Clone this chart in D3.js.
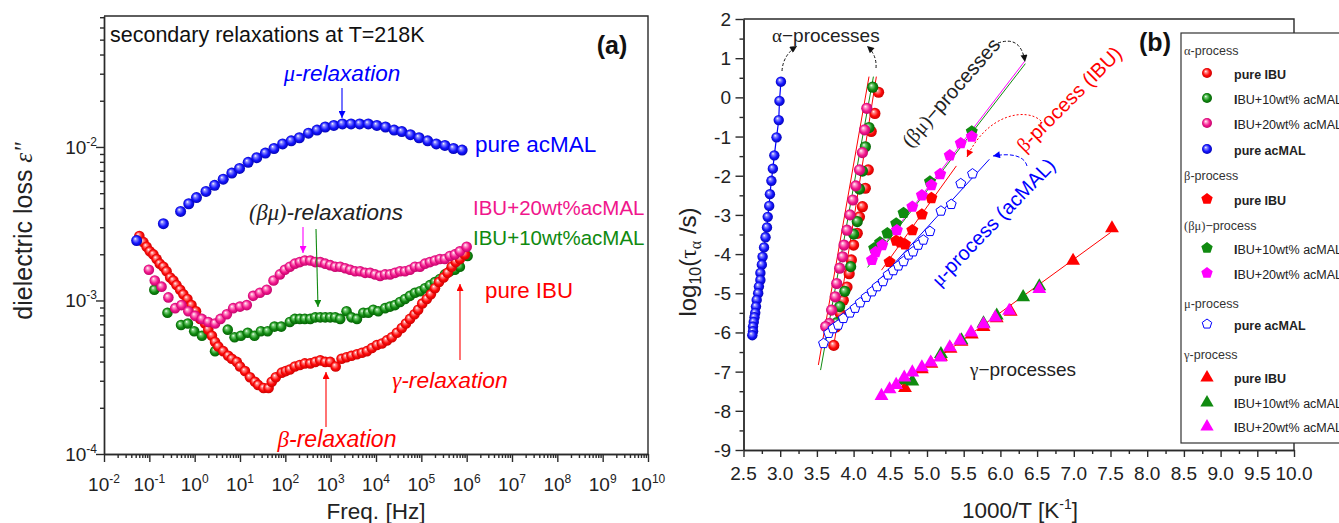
<!DOCTYPE html>
<html><head><meta charset="utf-8">
<script src="https://cdn.jsdelivr.net/npm/d3@7"></script>
<style>body{margin:0;background:#fff} svg{display:block} text{font-family:"Liberation Sans",Arial,sans-serif}</style>
</head><body><svg id="c" width="1339" height="523"></svg>
<script>
// ---------------- Panel (a) data : log10(freq/Hz), log10(eps'') ----------------
const acmalLogF = [-1.28,-0.69,-0.31,-0.13,0.04,0.25,0.44,0.63,0.82,0.99,1.18,1.37,1.56,1.75,1.94,2.13,2.31,2.51,2.70,2.88,3.07,3.26,3.45,3.64,3.83,4.02,4.21,4.40,4.57,4.76,4.95,5.14,5.33,5.52,5.71,5.90];
const acmalLogE = [-2.61,-2.50,-2.42,-2.37,-2.33,-2.29,-2.25,-2.21,-2.17,-2.14,-2.10,-2.07,-2.04,-2.01,-1.98,-1.96,-1.94,-1.91,-1.89,-1.87,-1.86,-1.85,-1.85,-1.85,-1.85,-1.86,-1.87,-1.89,-1.90,-1.92,-1.94,-1.96,-1.98,-1.99,-2.01,-2.02];
const ibuLogF = [-1.22,-1.13,-1.06,-0.99,-0.91,-0.84,-0.77,-0.69,-0.62,-0.54,-0.47,-0.40,-0.32,-0.25,-0.16,-0.07,0.03,0.12,0.23,0.30,0.38,0.45,0.52,0.63,0.74,0.82,0.93,1.00,1.11,1.22,1.33,1.40,1.52,1.63,1.70,1.79,1.92,2.01,2.10,2.21,2.32,2.43,2.55,2.66,2.77,2.88,2.99,3.11,3.24,3.35,3.46,3.58,3.69,3.80,3.91,4.02,4.13,4.24,4.35,4.46,4.57,4.66,4.75,4.85,4.93,5.02,5.12,5.21,5.30,5.39,5.49,5.58,5.67,5.76,5.85,5.96];
const ibuLogE = [-2.58,-2.62,-2.65,-2.68,-2.70,-2.73,-2.76,-2.78,-2.81,-2.85,-2.87,-2.90,-2.93,-2.96,-2.99,-3.03,-3.07,-3.12,-3.15,-3.19,-3.23,-3.27,-3.30,-3.33,-3.36,-3.38,-3.40,-3.43,-3.46,-3.50,-3.53,-3.55,-3.57,-3.57,-3.53,-3.50,-3.47,-3.46,-3.45,-3.43,-3.42,-3.41,-3.41,-3.40,-3.39,-3.40,-3.40,-3.43,-3.38,-3.37,-3.36,-3.35,-3.34,-3.33,-3.31,-3.29,-3.28,-3.26,-3.24,-3.21,-3.18,-3.15,-3.12,-3.09,-3.06,-3.02,-2.99,-2.96,-2.92,-2.88,-2.85,-2.82,-2.78,-2.75,-2.73,-2.70];
const ibu20LogF = [-1.01,-0.88,-0.73,-0.58,-0.43,-0.29,-0.14,0.01,0.16,0.30,0.45,0.57,0.71,0.85,1.00,1.15,1.29,1.44,1.59,1.74,1.88,1.99,2.10,2.21,2.32,2.43,2.55,2.66,2.77,2.88,2.99,3.10,3.21,3.32,3.43,3.54,3.65,3.76,3.87,3.98,4.09,4.20,4.31,4.42,4.53,4.64,4.75,4.86,4.97,5.08,5.19,5.30,5.41,5.52,5.63,5.74,5.85,6.00];
const ibu20LogE = [-2.80,-2.87,-2.91,-2.98,-3.05,-3.03,-3.07,-3.10,-3.12,-3.14,-3.15,-3.12,-3.09,-3.05,-3.04,-3.03,-2.97,-2.95,-2.93,-2.87,-2.83,-2.80,-2.78,-2.76,-2.75,-2.74,-2.74,-2.75,-2.75,-2.76,-2.77,-2.78,-2.78,-2.79,-2.80,-2.81,-2.81,-2.82,-2.82,-2.83,-2.84,-2.83,-2.83,-2.82,-2.81,-2.81,-2.80,-2.78,-2.78,-2.76,-2.75,-2.74,-2.73,-2.73,-2.71,-2.70,-2.68,-2.65];
const ibu10LogF = [-0.89,-0.60,-0.30,-0.15,-0.01,0.16,0.45,0.73,0.88,1.02,1.17,1.32,1.46,1.61,1.76,1.91,2.10,2.21,2.32,2.43,2.55,2.66,2.77,2.88,2.99,3.10,3.21,3.35,3.46,3.58,3.72,3.83,3.94,4.05,4.20,4.31,4.42,4.53,4.64,4.75,4.86,4.97,5.08,5.19,5.30,5.41,5.52,5.63,5.74,5.85,6.02];
const ibu10LogE = [-2.93,-3.08,-3.16,-3.15,-3.20,-3.23,-3.33,-3.19,-3.24,-3.23,-3.21,-3.23,-3.20,-3.20,-3.17,-3.17,-3.14,-3.12,-3.12,-3.12,-3.12,-3.11,-3.11,-3.11,-3.11,-3.11,-3.12,-3.07,-3.11,-3.12,-3.08,-3.08,-3.06,-3.07,-3.05,-3.04,-3.03,-3.01,-2.99,-2.97,-2.95,-2.94,-2.92,-2.90,-2.88,-2.86,-2.83,-2.81,-2.80,-2.78,-2.71];
const freqDecadeTicks = [-2,-1,0,1,2,3,4,5,6,7,8,9,10];
const lossDecadeTicks = [-4,-3,-2];

// ---------------- Panel (b) data : 1000/T [1/K], log10(tau/s) ----------------
const alphaAcmalT = [3.01,2.99,2.98,2.95,2.92,2.90,2.88,2.86,2.85,2.83,2.82,2.80,2.78,2.76,2.75,2.73,2.73,2.71,2.70,2.68,2.67,2.66,2.65,2.64,2.63,2.63,2.62];
const alphaAcmalTau = [0.40,-0.09,-0.58,-1.02,-1.48,-1.82,-2.13,-2.47,-2.77,-3.05,-3.32,-3.57,-3.83,-4.07,-4.27,-4.48,-4.66,-4.83,-5.00,-5.17,-5.34,-5.50,-5.61,-5.73,-5.85,-5.97,-6.07];
const alphaIbuT = [4.34,4.29,4.24,4.20,4.16,4.12,4.08,4.05,4.00,3.97,3.94,3.91,3.86,3.82,3.76,3.73];
const alphaIbuTau = [0.13,-0.41,-0.87,-1.85,-2.32,-2.79,-3.05,-3.47,-3.77,-4.15,-4.50,-4.84,-5.18,-5.52,-5.86,-6.33];
const alphaIbu10T = [4.26,4.21,4.16,4.12,4.08,4.05,4.00,3.96,3.88,3.81,3.77];
const alphaIbu10Tau = [0.26,-0.77,-1.26,-1.88,-2.34,-3.17,-3.49,-4.32,-4.95,-5.34,-5.75];
const alphaIbu20T = [4.18,4.15,4.12,4.08,4.03,3.99,3.95,3.91,3.87,3.85,3.81,3.77,3.75,3.70,3.67,3.62];
const alphaIbu20Tau = [-0.28,-0.83,-1.41,-1.85,-2.26,-2.62,-3.00,-3.39,-3.77,-4.07,-4.36,-4.75,-5.09,-5.43,-5.77,-5.85];
const alphaFitRedAT = [3.52,4.21], alphaFitRedATau = [-6.83,0.53];
const alphaFitRedBT = [3.72,4.31], alphaFitRedBTau = [-6.45,0.53];
const alphaFitGreenT = [3.55,4.27], alphaFitGreenTau = [-6.96,0.53];
const betaIbuT = [4.49,4.58,4.64,4.70,4.80,4.93,5.06];
const betaIbuTau = [-4.20,-3.66,-3.70,-3.75,-3.39,-2.99,-2.57];
const betaFitT = [4.38,5.40], betaFitTau = [-4.41,-1.75];
const bm10T = [4.28,4.36,4.46,4.58,4.68,5.04,5.61];
const bm10Tau = [-3.85,-3.70,-3.47,-3.22,-2.95,-2.15,-0.87];
const bm20T = [4.25,4.30,4.39,4.59,4.80,4.93,5.06,5.18,5.31,5.46,5.61];
const bm20Tau = [-4.15,-3.95,-3.77,-3.39,-2.79,-2.50,-2.24,-1.96,-1.48,-1.17,-1.00];
const bm10FitT = [4.19,6.34], bm10FitTau = [-4.34,0.86];
const bm20FitT = [4.20,6.33], bm20FitTau = [-4.28,0.92];
const muT = [3.59,3.66,3.72,3.79,3.86,3.95,4.02,4.09,4.17,4.25,4.32,4.40,4.47,4.54,4.61,4.68,4.75,4.81,4.88,4.95,5.04,5.19,5.33,5.46,5.62];
const muTau = [-6.28,-6.02,-5.90,-5.81,-5.64,-5.50,-5.38,-5.24,-5.10,-4.96,-4.83,-4.70,-4.53,-4.42,-4.30,-4.19,-4.02,-3.94,-3.77,-3.64,-3.42,-2.90,-2.73,-2.20,-1.95];
const muFitT = [3.54,5.85], muFitTau = [-6.32,-1.58];
const gIbuT = [4.70,4.93,5.06,5.19,5.32,5.47,5.61,5.77,5.95,6.14,6.99,7.52];
const gIbuTau = [-7.40,-6.92,-6.78,-6.60,-6.40,-6.22,-6.03,-5.84,-5.62,-5.45,-4.15,-3.32];
const gIbu10T = [4.69,4.80,5.19,5.47,5.77,5.95,6.31,6.53];
const gIbu10Tau = [-7.20,-7.23,-6.53,-6.18,-5.75,-5.55,-5.08,-4.80];
const gIbu20T = [4.38,4.49,4.58,4.69,4.80,4.93,5.05,5.18,5.31,5.45,5.60,5.77,5.93,6.12,6.53];
const gIbu20Tau = [-7.60,-7.43,-7.32,-7.13,-7.00,-6.87,-6.75,-6.62,-6.36,-6.19,-5.98,-5.77,-5.60,-5.43,-4.87];
const gFitT = [7.50,4.60], gFitTau = [-3.45,-7.40];
const invTTicks = [2.5,3.0,3.5,4.0,4.5,5.0,5.5,6.0,6.5,7.0,7.5,8.0,8.5,9.0,9.5,10.0];
const tauTicks = [-9,-8,-7,-6,-5,-4,-3,-2,-1,0,1,2];

// ---------------- setup ----------------
const svg = d3.select('#c');
const defs = svg.append('defs');
const AX = '#2a2a2a';
function grad(id, light, base, dark){
  const g = defs.append('radialGradient').attr('id',id).attr('cx','0.5').attr('cy','0.5').attr('r','0.55').attr('fx','0.36').attr('fy','0.32');
  g.append('stop').attr('offset','0').attr('stop-color','#ffffff');
  g.append('stop').attr('offset','0.22').attr('stop-color',light);
  g.append('stop').attr('offset','0.6').attr('stop-color',base);
  g.append('stop').attr('offset','1').attr('stop-color',dark);
}
grad('gRed','#ff8a8a','#ff0a0a','#c00000');
grad('gGreen','#7bd07b','#138c13','#005800');
grad('gPink','#ff9ccc','#f2188e','#b80062');
grad('gBlue','#8a8aff','#1515ff','#0000a5');
function arrowMarker(id, color){
  defs.append('marker').attr('id',id).attr('viewBox','0 0 10 10').attr('refX',10).attr('refY',5)
    .attr('markerWidth',9).attr('markerHeight',7).attr('markerUnits','userSpaceOnUse').attr('orient','auto')
    .append('path').attr('d','M0,0 L10,5 L0,10 Z').attr('fill',color);
}
arrowMarker('aBlue','#0000ff'); arrowMarker('aRed','#ff0000'); arrowMarker('aGreen','#108a10');
arrowMarker('aMag','#ff00ff'); arrowMarker('aBlack','#111');

function pentPath(r){
  const p = d3.range(5).map(k => { const a = -Math.PI/2 + k*2*Math.PI/5; return [r*Math.cos(a), r*Math.sin(a)]; });
  return 'M' + p.map(q => q[0].toFixed(2)+','+q[1].toFixed(2)).join('L') + 'Z';
}
function triPath(s){ return `M0,${-s} L${s*0.95},${s*0.65} L${-s*0.95},${s*0.65} Z`; }

function balls(g, xs, ys, xS, yS, gid, r, conv){
  g.append('g').selectAll('circle').data(d3.zip(xs, ys)).join('circle')
    .attr('cx', d => xS(conv ? Math.pow(10,d[0]) : d[0]))
    .attr('cy', d => yS(conv ? Math.pow(10,d[1]) : d[1]))
    .attr('r', r).attr('fill', `url(#${gid})`);
}
function shapes(g, xs, ys, xS, yS, path, fill, stroke){
  g.append('g').selectAll('path').data(d3.zip(xs, ys)).join('path')
    .attr('transform', d => `translate(${xS(d[0])},${yS(d[1])})`)
    .attr('d', path).attr('fill', fill).attr('stroke', stroke || 'none').attr('stroke-width', stroke ? 1 : 0);
}
function fitLine(g, xs, ys, xS, yS, color, w){
  g.append('path').datum(d3.zip(xs, ys)).attr('d', d3.line().x(d=>xS(d[0])).y(d=>yS(d[1])))
    .attr('fill','none').attr('stroke',color).attr('stroke-width', w || 1);
}
function styleAxis(sel){ sel.selectAll('path,line').attr('stroke',AX).attr('stroke-width',1.4); sel.selectAll('text').remove(); }

// ================= Panel (a) =================
const xA = d3.scaleLog().domain([1e-2, 1e10]).range([104, 648]);
const yA = d3.scaleLog().domain([1e-4, Math.pow(10,-1.147)]).range([454, 16]);
const gA = svg.append('g');
const minorXA = [];
freqDecadeTicks.slice(0,-1).forEach(e => { for (let m=2;m<=9;m++) minorXA.push(m*Math.pow(10,e)); });
const minorYA = [];
[-4,-3,-2].forEach(e => { for (let m=2;m<=9;m++){ const v=m*Math.pow(10,e); if (v < yA.domain()[1]) minorYA.push(v);} });
gA.append('g').attr('transform','translate(0,454)').call(d3.axisBottom(xA).tickValues(minorXA).tickSize(4).tickSizeOuter(0)).call(styleAxis);
gA.append('g').attr('transform','translate(0,454)').call(d3.axisBottom(xA).tickValues(freqDecadeTicks.map(e=>Math.pow(10,e))).tickSize(8).tickSizeOuter(0)).call(styleAxis);
gA.append('g').attr('transform','translate(104,0)').call(d3.axisLeft(yA).tickValues(minorYA).tickSize(4).tickSizeOuter(0)).call(styleAxis);
gA.append('g').attr('transform','translate(104,0)').call(d3.axisLeft(yA).tickValues(lossDecadeTicks.map(e=>Math.pow(10,e))).tickSize(8).tickSizeOuter(0)).call(styleAxis);
gA.append('path').attr('d','M104,16 H648 V454').attr('fill','none').attr('stroke',AX).attr('stroke-width',1.4);
freqDecadeTicks.forEach(e => {
  const t = gA.append('text').attr('x', xA(Math.pow(10,e))).attr('y', 491).attr('text-anchor','middle').attr('font-size',19).attr('fill','#222');
  t.append('tspan').text('10'); t.append('tspan').attr('dy',-8).attr('font-size',12).text(String(e));
});
lossDecadeTicks.forEach(e => {
  const t = gA.append('text').attr('x', 97).attr('y', yA(Math.pow(10,e))+7).attr('text-anchor','end').attr('font-size',19).attr('fill','#222');
  t.append('tspan').text('10'); t.append('tspan').attr('dy',-8).attr('font-size',12).text(String(e));
});
gA.append('text').attr('transform','translate(32,231) rotate(-90)').attr('text-anchor','middle').attr('font-size',25).attr('fill','#222')
  .call(t=>{ t.append('tspan').text('dielectric loss '); t.append('tspan').attr('font-family','Liberation Serif').attr('font-style','italic').text('ε"'); });
gA.append('text').attr('x',376).attr('y',519).attr('text-anchor','middle').attr('font-size',22.5).attr('fill','#222').text('Freq. [Hz]');

balls(gA, ibu10LogF, ibu10LogE, xA, yA, 'gGreen', 5.3, true);
balls(gA, ibuLogF, ibuLogE, xA, yA, 'gRed', 5.3, true);
balls(gA, ibu20LogF, ibu20LogE, xA, yA, 'gPink', 5.3, true);
balls(gA, acmalLogF, acmalLogE, xA, yA, 'gBlue', 5.5, true);

function aText(x,y,size,color,parts,anchor,italic){
  const t = gA.append('text').attr('x',x).attr('y',y).attr('font-size',size).attr('fill',color).attr('text-anchor',anchor||'start');
  if (italic) t.attr('font-style','italic');
  parts.forEach(p => { const s = t.append('tspan').text(p[0]); if (p[1]) s.attr('font-family','Liberation Serif'); });
  return t;
}
aText(110,42,21.5,'#111',[['secondary relaxations at T=218K']]);
gA.append('text').attr('x',612).attr('y',54).attr('text-anchor','middle').attr('font-size',25).attr('font-weight','bold').attr('fill','#111').text('(a)');
aText(342,81,22.5,'#0000ff',[['μ',1],['-relaxation']],'middle',true);
aText(475,152,22.5,'#0000ff',[['pure acMAL']]);
aText(326,220,22.5,'#222',[['(βμ)',1],['-relaxations']],'middle',true);
aText(473,215,20.5,'#f0168c',[['IBU+20wt%acMAL']]);
aText(473,245,20.5,'#108a10',[['IBU+10wt%acMAL']]);
aText(485,298,22.3,'#ff0000',[['pure IBU']]);
aText(450,388,22.8,'#ff0000',[['γ',1],['-relaxation']],'middle',true);
aText(337,447,23,'#ff0000',[['β',1],['-relaxation']],'middle',true);
function arrow(g,x1,y1,x2,y2,color,mk){ g.append('line').attr('x1',x1).attr('y1',y1).attr('x2',x2).attr('y2',y2).attr('stroke',color).attr('stroke-width',1.1).attr('marker-end',`url(#${mk})`); }
arrow(gA,342,88,342,118,'#0000ff','aBlue');
arrow(gA,303,227,303,253,'#ff00ff','aMag');
arrow(gA,316,229,318,307,'#108a10','aGreen');
arrow(gA,326,427,326,372,'#ff0000','aRed');
arrow(gA,460,360,460,284,'#ff0000','aRed');

// ================= Panel (b) =================
const xB = d3.scaleLinear().domain([2.5, 10]).range([743.5, 1294]);
const yB = d3.scaleLinear().domain([-9, 2]).range([450, 19]);
const gB = svg.append('g');
gB.append('g').attr('transform','translate(0,450)').call(d3.axisBottom(xB).tickValues(invTTicks.slice(0,-1).map(v=>v+0.25)).tickSize(4).tickSizeOuter(0)).call(styleAxis);
gB.append('g').attr('transform','translate(0,450)').call(d3.axisBottom(xB).tickValues(invTTicks).tickSize(7).tickSizeOuter(0)).call(styleAxis);
gB.append('g').attr('transform','translate(743.5,0)').call(d3.axisLeft(yB).tickValues(tauTicks.slice(0,-1).map(v=>v+0.5)).tickSize(4).tickSizeOuter(0)).call(styleAxis);
gB.append('g').attr('transform','translate(743.5,0)').call(d3.axisLeft(yB).tickValues(tauTicks).tickSize(8).tickSizeOuter(0)).call(styleAxis);
gB.append('path').attr('d','M743.5,19 H1294 V450').attr('fill','none').attr('stroke',AX).attr('stroke-width',1.4);
invTTicks.forEach(v => gB.append('text').attr('x',xB(v)).attr('y',480).attr('text-anchor','middle').attr('font-size',19).attr('fill','#222').text(d3.format('.1f')(v)));
tauTicks.forEach(v => gB.append('text').attr('x',731).attr('y',yB(v)+7).attr('text-anchor','end').attr('font-size',19).attr('fill','#222').text(v));
gB.append('text').attr('transform','translate(696,262) rotate(-90)').attr('text-anchor','middle').attr('font-size',24).attr('fill','#222')
  .call(t=>{ t.append('tspan').text('log'); t.append('tspan').attr('dy',5).attr('font-size',16).text('10');
             t.append('tspan').attr('dy',-5).text('('); t.append('tspan').attr('font-family','Liberation Serif').text('τ');
             t.append('tspan').attr('dy',5).attr('font-size',16).attr('font-family','Liberation Serif').text('α');
             t.append('tspan').attr('dy',-5).text(' /s)'); });
gB.append('text').attr('x',1020).attr('y',518).attr('text-anchor','middle').attr('font-size',22.5).attr('fill','#222')
  .call(t=>{ t.append('tspan').text('1000/T [K'); t.append('tspan').attr('dy',-9).attr('font-size',14).text('-1'); t.append('tspan').attr('dy',9).text(']'); });

// lines
fitLine(gB, alphaAcmalT, alphaAcmalTau, xB, yB, '#0000ff', 1.2);
fitLine(gB, alphaFitRedAT, alphaFitRedATau, xB, yB, '#ff0000', 1);
fitLine(gB, alphaFitRedBT, alphaFitRedBTau, xB, yB, '#ff0000', 1);
fitLine(gB, alphaFitGreenT, alphaFitGreenTau, xB, yB, '#108a10', 1);
fitLine(gB, betaFitT, betaFitTau, xB, yB, '#ff0000', 1);
fitLine(gB, bm20FitT, bm20FitTau, xB, yB, '#ff00ff', 1);
fitLine(gB, bm10FitT, bm10FitTau, xB, yB, '#108a10', 1);
fitLine(gB, muFitT, muFitTau, xB, yB, '#0000ff', 1);
fitLine(gB, gFitT, gFitTau, xB, yB, '#ff0000', 1);

// markers
balls(gB, alphaAcmalT, alphaAcmalTau, xB, yB, 'gBlue', 5.2);
balls(gB, alphaIbuT, alphaIbuTau, xB, yB, 'gRed', 5.6);
balls(gB, alphaIbu10T, alphaIbu10Tau, xB, yB, 'gGreen', 5.6);
balls(gB, alphaIbu20T, alphaIbu20Tau, xB, yB, 'gPink', 5.6);
shapes(gB, betaIbuT, betaIbuTau, xB, yB, pentPath(6.3), '#ff0000');
shapes(gB, bm10T, bm10Tau, xB, yB, pentPath(6.3), '#108a10');
shapes(gB, bm20T, bm20Tau, xB, yB, pentPath(6.3), '#ff00ff');
shapes(gB, muT, muTau, xB, yB, pentPath(5.2), '#ffffff', '#0000ff');
shapes(gB, gIbuT, gIbuTau, xB, yB, triPath(7.3), '#ff0000');
shapes(gB, gIbu10T, gIbu10Tau, xB, yB, triPath(7.3), '#108a10');
shapes(gB, gIbu20T, gIbu20Tau, xB, yB, triPath(7.3), '#ff00ff');

// annotations
function bText(x,y,size,color,parts,anchor,rot,bold){
  const t = gB.append('text').attr('font-size',size).attr('fill',color).attr('text-anchor',anchor||'start');
  if (bold) t.attr('font-weight','bold');
  if (rot !== undefined && rot !== null) t.attr('transform',`translate(${x},${y}) rotate(${rot})`); else t.attr('x',x).attr('y',y);
  parts.forEach(p => { const s = t.append('tspan').text(p[0]); if (p[1]) s.attr('font-family','Liberation Serif'); });
}
bText(772,42,19,'#222',[['α',1],['−processes']]);
bText(970,376,19,'#222',[['γ',1],['−processes']]);
bText(1155,51,25,'#111',[['(b)']],'middle',null,true);
bText(956,97,20,'#222',[['(βμ)',1],['−processes']],'middle',-48.6);
bText(1074,104,20,'#ff0000',[['β',1],['-process (IBU)']],'middle',-45);
bText(998,227,20,'#0000ff',[['μ',1],['-process (acMAL)']],'middle',-46);
function curve(d,color,dash,mk){ gB.append('path').attr('d',d).attr('fill','none').attr('stroke',color).attr('stroke-width',1).attr('stroke-dasharray',dash).attr('marker-end',`url(#${mk})`); }
curve('M782,71 Q783,55 797,46','#111','3,2','aBlack');
curve('M876,68 Q877,55 867,46','#111','3,2','aBlack');
curve('M998,43 Q1021,35 1025,62','#111','3,2','aBlack');
curve('M1041,121 C1028,108 988,112 967,157','#ff0000','2,2','aRed');
curve('M1027,166 C1024,155 1010,153 993,156','#0000ff','4,2','aBlue');

// legend
const lg = svg.append('g');
lg.append('rect').attr('x',1181).attr('y',33).attr('width',200).attr('height',410).attr('fill','#fff').attr('stroke','#333').attr('stroke-width',1.2);
const legHeads = [['α','-process',51],['β','-process',176],['(βμ)','−process',226],['μ','-process',304],['γ','-process',355]];
legHeads.forEach(h => { const t = lg.append('text').attr('x',1184).attr('y',h[2]+4).attr('font-size',12.5).attr('fill','#333');
  t.append('tspan').attr('font-family','Liberation Serif').text(h[0]); t.append('tspan').text(h[1]); });
const legRows = [
  ['ball','gRed',null,'pure IBU',74,true],['ball','gGreen',null,'IBU+10wt% acMAL',99,false],['ball','gPink',null,'IBU+20wt% acMAL',124,false],['ball','gBlue',null,'pure acMAL',150,true],
  ['pent','#ff0000',null,'pure IBU',200,true],
  ['pent','#108a10',null,'IBU+10wt% acMAL',249,false],['pent','#ff00ff',null,'IBU+20wt% acMAL',274,false],
  ['pent','#ffffff','#0000ff','pure acMAL',325,true],
  ['tri','#ff0000',null,'pure IBU',378,true],['tri','#108a10',null,'IBU+10wt% acMAL',403,false],['tri','#ff00ff',null,'IBU+20wt% acMAL',427,false]
];
legRows.forEach(r => {
  if (r[0]==='ball') lg.append('circle').attr('cx',1207).attr('cy',r[4]-1).attr('r',5).attr('fill',`url(#${r[1]})`);
  else lg.append('path').attr('transform',`translate(1207,${r[4]-1})`).attr('d', r[0]==='pent'?pentPath(r[2]?5:6):triPath(7)).attr('fill',r[1]).attr('stroke',r[2]||'none');
  const t = lg.append('text').attr('x',1234).attr('y',r[4]+5).attr('font-size',12.5).attr('fill','#222');
  if (r[5]) t.attr('font-weight','bold').text(r[3]);
  else { t.append('tspan').attr('font-weight','bold').text(r[3][0]); t.append('tspan').text(r[3].slice(1)); }
});
</script></body></html>
